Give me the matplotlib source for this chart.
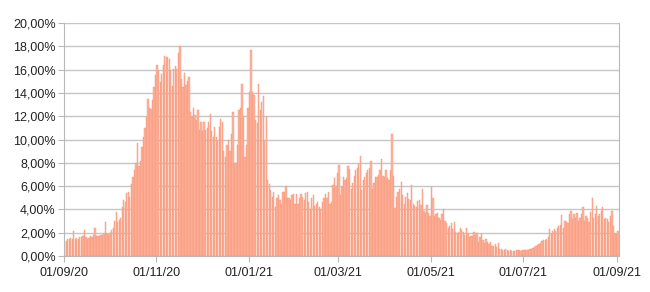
import matplotlib
matplotlib.use("Agg")
import matplotlib.pyplot as plt
import matplotlib.dates as mdates
from matplotlib.ticker import FuncFormatter, MultipleLocator
import pandas as pd

# daily share (%), one list per month
sep20 = [1.25, 1.3, 1.45, 1.5, 1.55, 1.5, 2.15, 1.5, 1.55, 1.5, 1.65, 1.6, 1.7, 2.25, 1.6,
         1.5, 1.55, 1.7, 1.65, 1.85, 2.45, 1.7, 1.7, 1.75, 1.8, 1.8, 1.9, 2.9, 1.9, 1.85]
oct20 = [2.0, 2.2, 2.4, 3.0, 3.8, 2.9, 3.1, 3.3, 4.2, 4.8, 4.6, 5.4, 5.5, 5.1, 6.2, 6.8,
         7.4, 8.0, 9.7, 7.7, 8.2, 9.4, 10.2, 11.0, 11.9, 13.5, 12.7, 12.6, 13.4, 14.5, 15.5]
nov20 = [16.4, 15.9, 14.9, 15.6, 16.4, 17.2, 17.1, 17.1, 16.9, 16.0, 14.6, 16.1, 16.3, 16.1,
         17.4, 18.0, 15.2, 14.5, 15.7, 14.7, 15.0, 15.4, 12.4, 11.9, 12.7, 12.1, 11.7, 12.5,
         10.8, 11.5]
dec20 = [10.7, 11.5, 10.8, 11.0, 11.5, 12.2, 10.7, 10.2, 11.1, 10.2, 9.9, 11.1, 11.8, 11.5,
         9.0, 8.5, 9.5, 10.0, 9.0, 10.5, 12.4, 8.0, 8.0, 9.5, 12.5, 12.7, 14.8, 12.0, 8.5,
         9.5, 12.7]
jan21 = [14.1, 17.7, 14.1, 13.8, 11.7, 11.4, 14.8, 12.5, 13.2, 13.7, 9.9, 11.9, 6.5, 6.2,
         5.7, 5.1, 5.5, 4.2, 5.0, 5.2, 4.8, 4.5, 5.5, 5.5, 6.0, 5.0, 5.0, 4.8, 5.2, 5.3, 4.5]
feb21 = [5.3, 4.5, 5.0, 5.3, 5.1, 4.8, 5.4, 5.5, 4.6, 4.0, 5.0, 5.2, 4.3, 4.5, 4.6, 4.2,
         4.0, 4.6, 5.0, 5.3, 5.0, 5.5, 4.5, 4.6, 6.1, 6.7, 6.0, 7.1]
mar21 = [7.8, 5.2, 5.9, 6.8, 6.5, 6.7, 7.7, 7.5, 5.8, 6.3, 6.9, 7.4, 7.6, 7.9, 8.6, 5.7,
         6.5, 6.8, 7.1, 7.4, 7.6, 8.2, 5.8, 6.3, 6.8, 6.8, 7.0, 7.4, 8.3, 6.9, 6.8]
apr21 = [7.4, 6.7, 6.5, 7.4, 10.5, 6.9, 4.1, 5.1, 5.5, 5.8, 6.4, 5.2, 4.5, 5.1, 5.4, 4.9,
         4.8, 6.1, 4.5, 4.3, 4.2, 4.7, 4.8, 4.4, 5.8, 3.9, 3.7, 4.4, 3.7, 3.4]
may21 = [5.9, 5.0, 3.4, 3.6, 3.7, 3.3, 3.1, 3.6, 4.0, 3.0, 2.8, 2.4, 2.6, 2.8, 2.3, 2.9,
         2.1, 1.9, 2.1, 2.4, 2.2, 2.1, 1.8, 2.4, 1.9, 1.6, 1.7, 1.7, 2.1, 1.8, 2.0]
jun21 = [1.2, 1.6, 1.9, 1.4, 1.1, 1.5, 1.2, 1.0, 1.2, 0.9, 0.85, 1.0, 0.8, 1.1, 0.6, 0.6,
         0.5, 0.55, 0.6, 0.55, 0.45, 0.5, 0.45, 0.4, 0.45, 0.5, 0.55, 0.5, 0.42, 0.48]
jul21 = [0.5, 0.55, 0.5, 0.55, 0.6, 0.65, 0.7, 0.75, 0.85, 0.95, 1.05, 1.15, 1.3, 1.4, 1.35,
         1.5, 1.6, 2.3, 1.9, 2.15, 2.3, 2.15, 2.4, 2.6, 2.7, 3.5, 2.4, 3.0, 2.9, 2.8, 3.6]
aug21 = [3.9, 3.2, 3.6, 3.3, 3.7, 3.0, 3.3, 3.6, 4.2, 3.0, 3.4, 3.3, 2.9, 3.8, 5.0, 3.3,
         3.6, 4.3, 3.4, 3.6, 3.9, 4.2, 3.2, 3.3, 3.2, 2.9, 3.4, 3.9, 2.6, 1.9, 1.9]
sep21 = [2.15]

values = sep20 + oct20 + nov20 + dec20 + jan21 + feb21 + mar21 + apr21 + may21 + jun21 + jul21 + aug21 + sep21
dates = pd.date_range("2020-09-01", "2021-09-01", freq="D")
tick_dates = pd.to_datetime(["2020-09-01", "2020-11-01", "2021-01-01", "2021-03-01",
                             "2021-05-01", "2021-07-01", "2021-09-01"])

plt.rcParams["font.family"] = ["Liberation Sans", "DejaVu Sans"]

fig = plt.figure(figsize=(6.5, 2.92), dpi=100)
ax = fig.add_axes([0.0985, 0.123, 0.8535, 0.798])

ax.bar(dates, values, width=0.85, align="edge", color="#ffb59f",
       edgecolor="#f59274", linewidth=0.3, zorder=2)

ax.set_ylim(0, 20)
ax.set_xlim(dates[0], dates[-1] + pd.Timedelta(days=1))
ax.yaxis.set_major_locator(MultipleLocator(2))
ax.yaxis.set_major_formatter(FuncFormatter(lambda v, _: f"{v:.2f}%".replace(".", ",")))
ax.set_xticks(tick_dates)
ax.xaxis.set_major_formatter(mdates.DateFormatter("%d/%m/%y"))

ax.grid(axis="y", color="#c6c6c6", linewidth=1.0, zorder=0)
for side in ("left", "bottom", "right"):
    ax.spines[side].set_color("#b8b8b8")
ax.spines["top"].set_visible(False)
ax.tick_params(axis="both", direction="out", length=4, color="#b8b8b8",
               labelsize=9, labelcolor="#222222")
ax.tick_params(axis="y", pad=2)

fig.savefig("out.png", dpi=100)
